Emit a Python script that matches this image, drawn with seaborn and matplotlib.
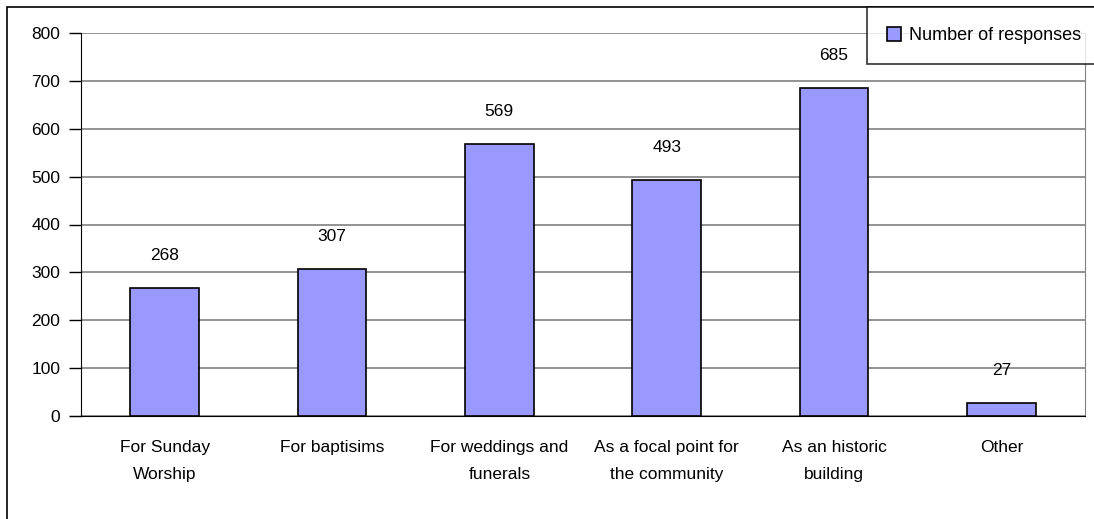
import matplotlib
matplotlib.use("Agg")
import matplotlib.pyplot as plt
import matplotlib.patches as mpatches
import seaborn as sns
import pandas as pd

categories = ["For Sunday\nWorship", "For baptisims", "For weddings and\nfunerals",
              "As a focal point for\nthe community", "As an historic\nbuilding", "Other"]
responses = [268, 307, 569, 493, 685, 27]
yticks = [0, 100, 200, 300, 400, 500, 600, 700, 800]

df = pd.DataFrame({"category": categories, "responses": responses})

sns.set_style("white", {"text.color": "black", "xtick.color": "black", "ytick.color": "black"})
plt.rcParams["font.family"] = ["Liberation Sans Narrow", "Liberation Sans", "DejaVu Sans"]

fig = plt.figure(figsize=(10.94, 5.19), dpi=100)
ax = fig.add_axes([81 / 1094, 1 - 416 / 519, (1085 - 81) / 1094, (416 - 33) / 519])

sns.barplot(data=df, x="category", y="responses", color="#9999FF", saturation=1,
            width=0.41, edgecolor="black", linewidth=1.2, ax=ax, zorder=3)

for i, v in enumerate(responses):
    ax.text(i, v + 68, str(v), ha="center", va="center", fontsize=12.5, color="black")

ax.set_xlim(-0.5, 5.5)
ax.set_ylim(0, 800)
ax.set_yticks(yticks)
ax.set_yticklabels([str(t) for t in yticks], fontsize=12.5)
ax.yaxis.grid(True, color="#808080", linewidth=1.2, zorder=0)
ax.set_axisbelow(True)
ax.set_xlabel("")
ax.set_ylabel("")

ax.set_xticks([i - 0.5 for i in range(7)], minor=False)
ax.set_xticklabels([])
ax.set_xticks(range(6), minor=True)
ax.set_xticklabels(categories, minor=True, fontsize=12.5, linespacing=2.0)
ax.tick_params(axis="x", which="major", direction="out", length=8, width=1, color="black")
ax.tick_params(axis="x", which="minor", length=0, pad=17)
ax.tick_params(axis="y", direction="out", length=9, width=1, color="black", left=True, pad=6)

ax.spines["top"].set_visible(False)
ax.spines["right"].set_color("#808080")
ax.spines["left"].set_color("black")
ax.spines["bottom"].set_color("black")
ax.spines["bottom"].set_bounds(-0.565, 5.5)

border = mpatches.Rectangle((7 / 1094, -0.1), 1.2, 1.1 - 7 / 519, transform=fig.transFigure,
                            fill=False, edgecolor="black", linewidth=1.2)
fig.patches.append(border)

handle = mpatches.Patch(facecolor="#9999FF", edgecolor="black", linewidth=1.2,
                        label="Number of responses")
leg = fig.legend(handles=[handle], loc="upper left",
                 bbox_to_anchor=(867 / 1094, 1 - 7 / 519, 0.3, 0.0), mode="expand",
                 fontsize=13, frameon=True, fancybox=False, handlelength=0.8, handleheight=0.8,
                 handletextpad=0.45, borderpad=1.1, borderaxespad=0)
leg.get_frame().set_edgecolor("black")
leg.get_frame().set_linewidth(1.2)

fig.savefig("out.png", dpi=100)
